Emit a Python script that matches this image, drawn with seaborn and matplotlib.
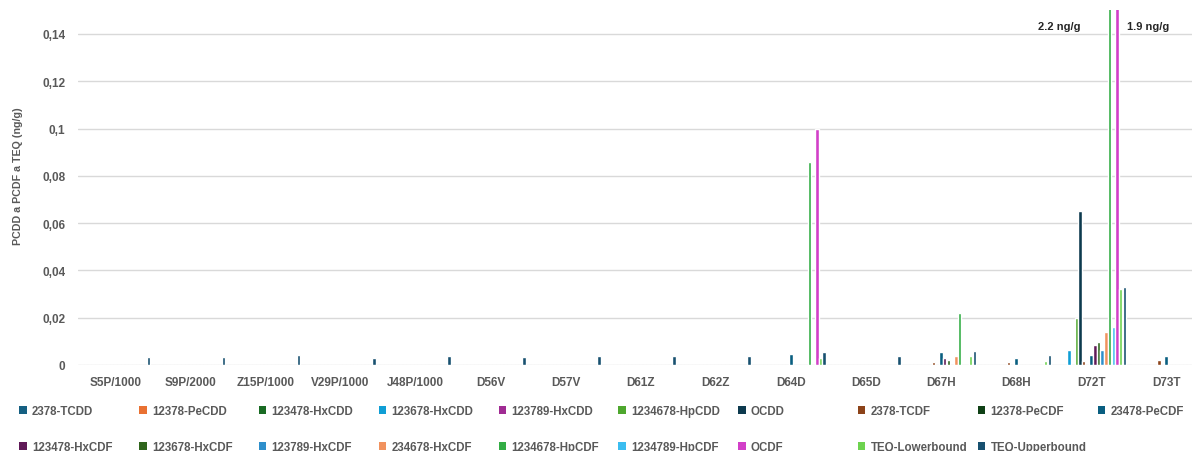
import matplotlib
matplotlib.use("Agg")
import matplotlib.pyplot as plt
from matplotlib.patches import Patch
from matplotlib.ticker import FuncFormatter
import seaborn as sns
import pandas as pd

# Samples (x-axis categories)
samples = ["S5P/1000", "S9P/2000", "Z15P/1000", "V29P/1000", "J48P/1000",
           "D56V", "D57V", "D61Z", "D62Z", "D64D", "D65D", "D67H", "D68H",
           "D72T", "D73T"]

# Congeners / TEQ series (legend order)
congeners = ["2378-TCDD", "12378-PeCDD", "123478-HxCDD", "123678-HxCDD",
             "123789-HxCDD", "1234678-HpCDD", "OCDD", "2378-TCDF",
             "12378-PeCDF", "23478-PeCDF", "123478-HxCDF", "123678-HxCDF",
             "123789-HxCDF", "234678-HxCDF", "1234678-HpCDF",
             "1234789-HpCDF", "OCDF", "TEQ-Lowerbound", "TEQ-Upperbound"]

colors = ["#156082", "#E97132", "#196B24", "#0F9ED5", "#A02B93", "#4EA72E",
          "#0D3A4E", "#8C4319", "#0F4015", "#095E80", "#601A58", "#2F651C",
          "#2E8FCB", "#F1925E", "#33AD45", "#3BBDF0", "#D23FC8", "#6DD34F",
          "#17506F"]

# Concentrations in ng/g, one value per sample
tcdd_2378      = [0, 0, 0, 0, 0, 0, 0, 0, 0, 0, 0, 0, 0, 0, 0]
pecdd_12378    = [0, 0, 0, 0, 0, 0, 0, 0, 0, 0, 0, 0, 0, 0, 0]
hxcdd_123478   = [0, 0, 0, 0, 0, 0, 0, 0, 0, 0, 0, 0, 0, 0, 0]
hxcdd_123678   = [0, 0, 0, 0, 0, 0, 0, 0, 0, 0, 0, 0, 0, 0.0062, 0]
hxcdd_123789   = [0, 0, 0, 0, 0, 0, 0, 0, 0, 0, 0, 0, 0, 0, 0]
hpcdd_1234678  = [0, 0, 0, 0, 0, 0, 0, 0, 0, 0, 0, 0, 0, 0.020, 0]
ocdd           = [0, 0, 0, 0, 0, 0, 0, 0, 0, 0, 0, 0, 0, 0.065, 0]
tcdf_2378      = [0, 0, 0, 0, 0, 0, 0, 0, 0, 0, 0, 0.0013, 0.0013, 0.0016, 0.0023]
pecdf_12378    = [0, 0, 0, 0, 0, 0, 0, 0, 0, 0, 0, 0, 0, 0, 0]
pecdf_23478    = [0, 0, 0, 0, 0, 0, 0, 0, 0, 0.0045, 0, 0.0055, 0.0031, 0.0042, 0.0037]
hxcdf_123478   = [0, 0, 0, 0, 0, 0, 0, 0, 0, 0, 0, 0.0028, 0, 0.0085, 0]
hxcdf_123678   = [0, 0, 0, 0, 0, 0, 0, 0, 0, 0, 0, 0.0021, 0, 0.0099, 0]
hxcdf_123789   = [0, 0, 0, 0, 0, 0, 0, 0, 0, 0, 0, 0, 0, 0.0062, 0]
hxcdf_234678   = [0, 0, 0, 0, 0, 0, 0, 0, 0, 0, 0, 0.0038, 0, 0.014, 0]
hpcdf_1234678  = [0, 0, 0, 0, 0, 0, 0, 0, 0, 0.086, 0, 0.022, 0, 2.2, 0]
hpcdf_1234789  = [0, 0, 0, 0, 0, 0, 0, 0, 0, 0, 0, 0, 0, 0.016, 0]
ocdf           = [0, 0, 0, 0, 0, 0, 0, 0, 0, 0.100, 0, 0, 0, 1.9, 0]
teq_lower      = [0, 0, 0, 0, 0, 0, 0, 0, 0, 0.0030, 0, 0.0038, 0.0018, 0.032, 0.0015]
teq_upper      = [0.0034, 0.0034, 0.0041, 0.0031, 0.0036, 0.0035, 0.0037,
                  0.0039, 0.0039, 0.0055, 0.0039, 0.0058, 0.0041, 0.033, 0.0045]

series_values = [tcdd_2378, pecdd_12378, hxcdd_123478, hxcdd_123678,
                 hxcdd_123789, hpcdd_1234678, ocdd, tcdf_2378, pecdf_12378,
                 pecdf_23478, hxcdf_123478, hxcdf_123678, hxcdf_123789,
                 hxcdf_234678, hpcdf_1234678, hpcdf_1234789, ocdf,
                 teq_lower, teq_upper]

# Out-of-range values written beside the clipped bars
callout_sample = "D72T"
callout_labels = ["2.2 ng/g", "1.9 ng/g"]

rows = []
for name, vals in zip(congeners, series_values):
    for s, v in zip(samples, vals):
        rows.append({"sample": s, "congener": name, "value": v})
df = pd.DataFrame(rows)

sns.set_theme(style="white")
plt.rcParams["font.family"] = ["Liberation Sans", "DejaVu Sans"]

GREY = "#595959"
W, H, DPI = 1192, 452, 100
fig = plt.figure(figsize=(W / DPI, H / DPI), dpi=DPI)

left_px, right_px, top_px, base_px = 77.7, 1203.7, 11.3, 366.0
ax = fig.add_axes([left_px / W, 1 - base_px / H,
                   (right_px - left_px) / W, (base_px - top_px) / H])

sns.barplot(data=df, x="sample", y="value", hue="congener",
            hue_order=congeners, order=samples, palette=colors,
            saturation=1, width=0.937, gap=0.04, errorbar=None,
            legend=False, ax=ax)

ax.set_ylim(0, 0.15)
ax.set_xlim(-0.5, len(samples) - 0.5)
ax.set_yticks([i * 0.02 for i in range(8)])
ax.yaxis.set_major_formatter(FuncFormatter(lambda v, p: f"{v:g}".replace(".", ",")))
ax.yaxis.grid(True, color="#D9D9D9", linewidth=1.0)
ax.set_axisbelow(True)
for sp in ax.spines.values():
    sp.set_visible(False)

ax.tick_params(axis="both", length=0, labelcolor=GREY, labelsize=8.5)
ax.tick_params(axis="y", pad=9)
ax.tick_params(axis="x", pad=8)
for lab in ax.get_xticklabels() + ax.get_yticklabels():
    lab.set_fontweight("bold")

ax.set_xlabel("")
ax.set_ylabel("PCDD a PCDF a TEQ (ng/g)", fontsize=7.7, fontweight="bold",
              color=GREY)
ax.yaxis.set_label_coords(-(left_px - 23.5) / (right_px - left_px), 0.536)

# Labels for bars that run past the top of the axis
txt_kw = dict(fontsize=8, fontweight="bold", color="#262626", va="center")
xc = samples.index(callout_sample)
ax.text(xc - 0.139, 0.1435, callout_labels[0], ha="right", **txt_kw)
ax.text(xc + 0.478, 0.1435, callout_labels[1], ha="left", **txt_kw)

# Legend: ten evenly spaced columns, two rows
ncols = 10
col_w = 119.8
for c in range(ncols):
    idx = [i for i in (c, c + ncols) if i < len(congeners)]
    handles = [Patch(facecolor=colors[i], edgecolor="none") for i in idx]
    labels = [congeners[i] for i in idx]
    fig.legend(handles, labels, loc="upper left",
               bbox_to_anchor=((19.3 + c * col_w) / W, 1 - 406.0 / H),
               frameon=False, borderpad=0, borderaxespad=0,
               handlelength=0.65, handleheight=0.65, handletextpad=0.45,
               labelspacing=2.08, labelcolor=GREY,
               prop={"family": "Liberation Sans", "weight": "bold", "size": 8.3})

fig.savefig("out.png", dpi=DPI)
